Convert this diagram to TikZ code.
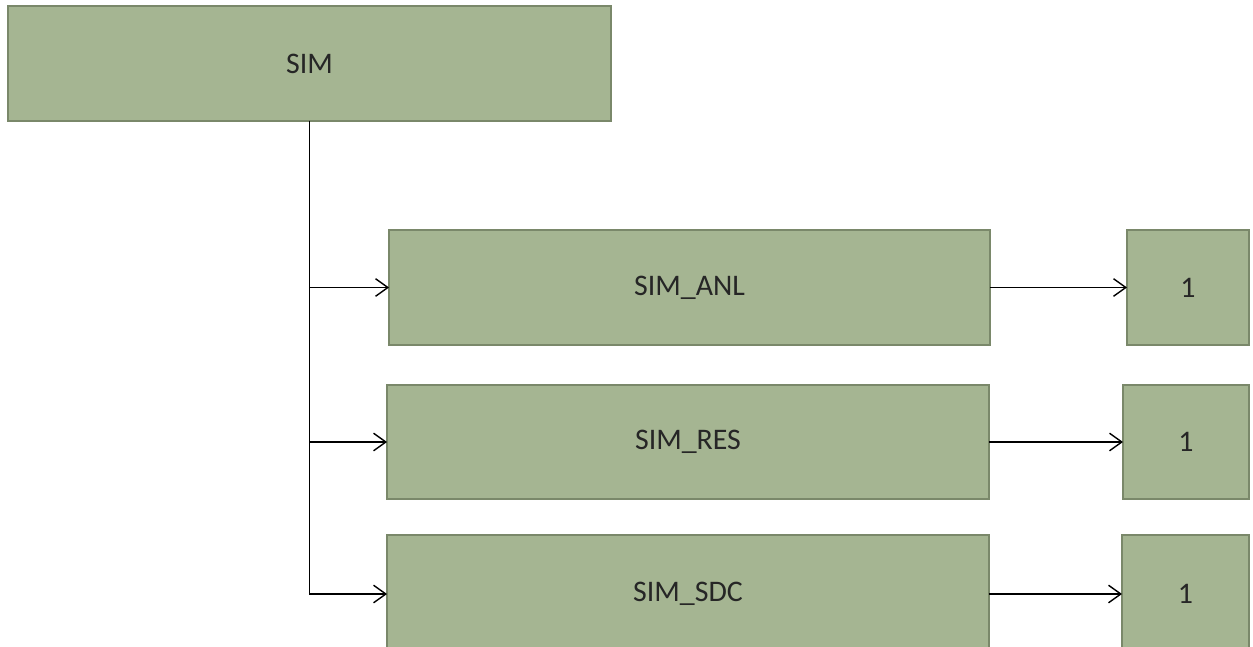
\documentclass[tikz,border=0pt]{standalone}
\usepackage{fontspec}
\setmainfont{Carlito}
\usetikzlibrary{arrows.meta}
\definecolor{boxfill}{RGB}{165,181,146}
\definecolor{boxline}{RGB}{122,136,106}
\tikzset{
  block/.style={draw=boxline,fill=boxfill,line width=1.1pt,inner sep=0pt,outer sep=0pt,
    font=\fontsize{17}{20}\selectfont,text=black!85},
  link/.style={line width=0.8pt,-{Straight Barb[length=7pt,width=10pt,line width=0.8pt]}}
}
\begin{document}
\begin{tikzpicture}[x=0.02cm,y=-0.02cm]
\useasboundingbox (0,0) rectangle (1253,646);
\clip (0,0) rectangle (1253,646);
\node[block,minimum width=12.06cm,minimum height=2.3cm] (sim) at (309.5,63.5) {SIM};
\node[block,minimum width=12.02cm,minimum height=2.3cm] (anl) at (689.5,287.5) {SIM\_ANL};
\node[block,minimum width=2.44cm,minimum height=2.3cm] (anlval) at (1188,287.5) {1};
\node[block,minimum width=12.04cm,minimum height=2.28cm] (res) at (688,442) {SIM\_RES};
\node[block,minimum width=2.52cm,minimum height=2.28cm] (resval) at (1186,442) {1};
\node[block,minimum width=12.04cm,minimum height=2.36cm] (sdc) at (688,594) {SIM\_SDC};
\node[block,minimum width=2.54cm,minimum height=2.36cm] (sdcval) at (1185.5,594) {1};
\draw[link] (sim.south) |- (anl.west);
\draw[link] (sim.south) |- (res.west);
\draw[link] (sim.south) |- (sdc.west);
\draw[link] (anl) -- (anlval);
\draw[link] (res) -- (resval);
\draw[link] (sdc) -- (sdcval);
\end{tikzpicture}
\end{document}
